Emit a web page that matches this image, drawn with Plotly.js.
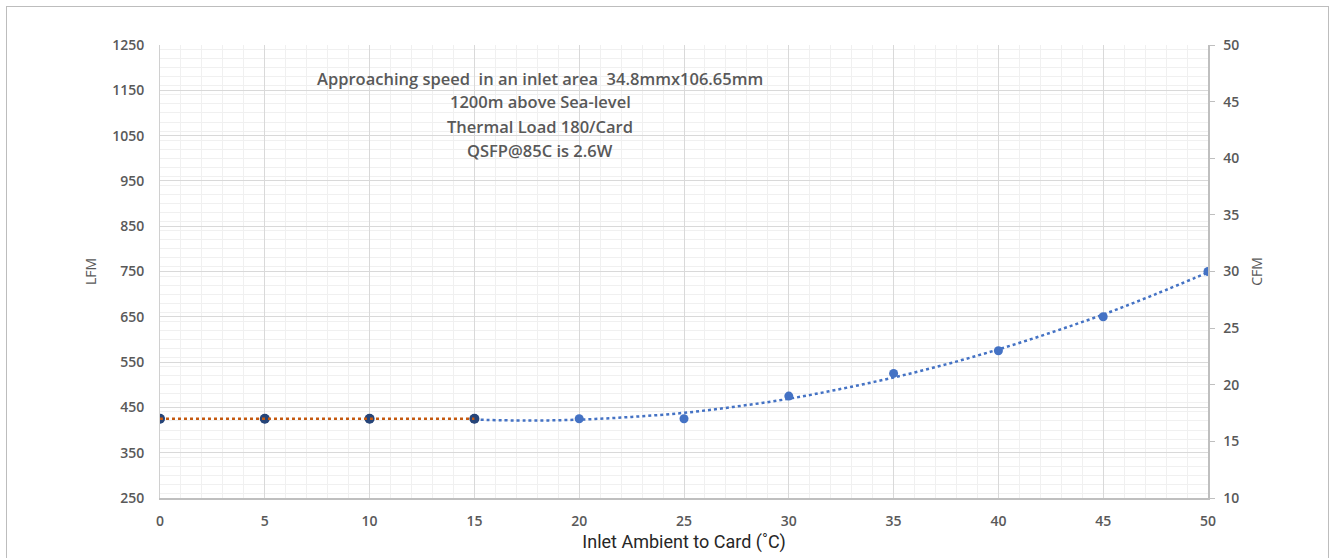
<!DOCTYPE html>
<html>
<head>
<meta charset="utf-8">
<script src="https://cdn.plot.ly/plotly-3.0.1.min.js"></script>
<style>
  html, body { margin: 0; padding: 0; background: #ffffff; overflow: hidden; }
  #wrap { position: relative; width: 1334px; height: 558px; }
  #chart { position: absolute; left: 0; top: 0; width: 1334px; height: 558px; }
  #frame { position: absolute; left: 6px; top: 6px; width: 1321px; height: 620px;
           border: 1px solid #bdbdbd; pointer-events: none; }
</style>
</head>
<body>
<div id="wrap">
  <div id="chart"></div>
  <div id="frame"></div>
</div>
<script>
// Inlet ambient temperature (°C)
const tempAll = [0, 5, 10, 15, 20, 25, 30, 35, 40, 45, 50];
// Approaching speed, LFM (blue series)
const lfmAll = [425, 425, 425, 425, 425, 425, 475, 525, 575, 650, 750];
// Same points in CFM (right axis)
const cfmAll = [17, 17, 17, 17, 17, 17, 19, 21, 23, 26, 30];

// Low-temperature series (dark markers)
const tempLow = [0, 5, 10, 15];
const lfmLow = [425, 425, 425, 425];

// Dotted trend curve (blue)
const trendX = [15, 17.5, 20, 22.5, 25, 27.5, 30, 32.5, 35, 37.5, 40, 42.5, 45, 47.5, 50];
const trendY = [423, 421, 423, 429, 438, 452, 469, 491, 516, 545, 578, 615, 655, 700, 748];

// Orange dotted trend over the low series
const trendLowX = [0, 15];
const trendLowY = [425, 425];

const annotationLines = [
  "Approaching speed  in an inlet area  34.8mmx106.65mm",
  "1200m above Sea-level",
  "Thermal Load 180/Card",
  "QSFP@85C is 2.6W"
];

const tickFont = { family: "Open Sans, Liberation Sans, sans-serif", size: 14, color: "#595959", weight: 600 };
const annFont = { family: "Open Sans, Liberation Sans, sans-serif", size: 16.5, color: "#595959", weight: 600 };

const traces = [
  {
    x: trendX, y: trendY, type: "scatter", mode: "lines",
    line: { color: "#4472C4", width: 2.5, dash: "dot", shape: "spline" },
    hoverinfo: "skip", showlegend: false
  },
  {
    x: tempAll, y: lfmAll, type: "scatter", mode: "markers",
    marker: { color: "#4472C4", size: 9 },
    showlegend: false, name: "LFM"
  },
  {
    x: tempLow, y: lfmLow, type: "scatter", mode: "markers",
    marker: { color: "#264478", size: 10 },
    showlegend: false, name: "LFM low"
  },
  {
    x: trendLowX, y: trendLowY, type: "scatter", mode: "lines",
    line: { color: "#C55A11", width: 2.5, dash: "dot" },
    hoverinfo: "skip", showlegend: false
  },
  {
    x: tempAll, y: cfmAll, type: "scatter", mode: "markers", yaxis: "y2",
    marker: { color: "rgba(0,0,0,0)", size: 1 },
    hoverinfo: "skip", showlegend: false
  }
];

// Annotation line centres (px from top): 78, 102, 126, 150 -> paper coords
const plotTop = 45, plotH = 453;
const annotations = annotationLines.map((t, i) => ({
  xref: "paper", yref: "paper",
  x: (540 - 160) / 1048,
  y: 1 - ((78 + 24 * i) - plotTop) / plotH,
  xanchor: "center", yanchor: "middle",
  text: t, showarrow: false, font: annFont
}));

const layout = {
  width: 1334, height: 558,
  margin: { l: 160, r: 126, t: 45, b: 60 },
  paper_bgcolor: "rgba(0,0,0,0)",
  plot_bgcolor: "#ffffff",
  showlegend: false,
  xaxis: {
    range: [0, 50], tick0: 0, dtick: 5,
    showgrid: true, gridcolor: "#d9d9d9", gridwidth: 1,
    minor: { dtick: 1, showgrid: true, gridcolor: "#f0f0f0", gridwidth: 1 },
    zeroline: false,
    showline: true, linecolor: "#bfbfbf", linewidth: 1.5,
    ticks: "", tickfont: tickFont, ticklabelstandoff: 10,
    title: { text: "Inlet Ambient to Card (˚C)", font: { family: "Roboto, Noto Sans, sans-serif", size: 18, color: "#262626" }, standoff: 6 }
  },
  yaxis: {
    range: [250, 1250], tick0: 250, dtick: 100,
    showgrid: true, gridcolor: "#d9d9d9", gridwidth: 1,
    minor: { dtick: 20, showgrid: true, gridcolor: "#f0f0f0", gridwidth: 1 },
    zeroline: false,
    showline: true, linecolor: "#d0d0d0", linewidth: 1,
    ticks: "", tickfont: tickFont, ticklabelstandoff: 12,
    title: { text: "LFM", font: { family: "Open Sans, sans-serif", size: 14, color: "#595959" }, standoff: 12 }
  },
  yaxis2: {
    overlaying: "y", side: "right",
    range: [10, 50], tick0: 10, dtick: 5,
    showgrid: false, zeroline: false,
    showline: true, linecolor: "#bfbfbf", linewidth: 1.5,
    ticks: "outside", ticklen: 5, tickcolor: "#bfbfbf",
    tickfont: tickFont, ticklabelstandoff: 6,
    title: { text: "CFM", font: { family: "Open Sans, sans-serif", size: 14, color: "#595959" }, standoff: 14 }
  },
  annotations: annotations
};

Plotly.newPlot("chart", traces, layout, { displayModeBar: false, staticPlot: true });
</script>
</body>
</html>
